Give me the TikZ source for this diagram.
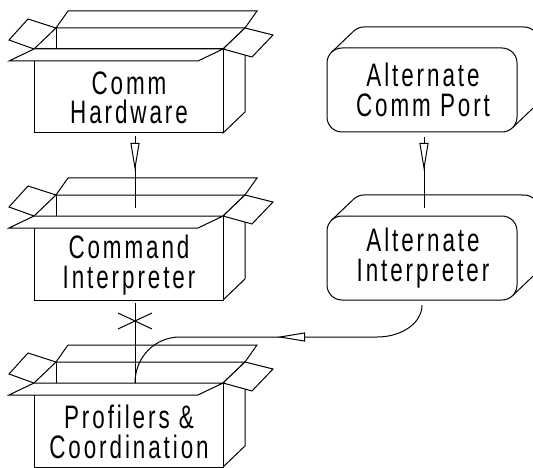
\documentclass[tikz,border=0pt]{standalone}
\usepackage{fontspec}
\newfontfamily\diagfont[FakeStretch=0.69,LetterSpace=9]{Liberation Sans}
\usetikzlibrary{arrows.meta,decorations.markings}

\tikzset{
  wire/.style={line width=1pt, line join=miter},
  facet/.style={draw=black, line width=1pt, fill=white, line join=miter},
  boxtext/.style={align=center, inner sep=0pt, font=\diagfont\fontsize{32.5}{29.5}\selectfont},
  hollowtip/.style={postaction={decorate, decoration={markings,
      mark=at position #1 with {\arrow{Triangle[length=28pt,width=9pt,fill=white,line width=1pt]}}}}},
  xmark/.style={postaction={decorate, decoration={markings,
      mark=at position #1 with {\draw[line width=1pt] (-8,-17) -- (8,17) (-8,17) -- (8,-17);}}}},
  % open cardboard box: origin at the front-left corner of the opening
  openbox/.pic={
    \draw[facet] (22,-21) -- (34,-38) -- (223,-38) -- (211,-21) -- cycle;
    \draw[facet] (22,-21) -- (-6,-30) -- (-25,-9) -- (0,0) -- cycle;
    \draw[wire] (22,-21) -- (22,0);
    \draw[facet] (189,0) -- (211,-21) -- (211,63) -- (189,84) -- cycle;
    \draw[facet] (0,0) rectangle (189,84);
    \draw[facet] (189,0) -- (211,-21) -- (239,-14) -- (218,8) -- cycle;
    \draw[facet] (0,0) -- (-25,12) -- (164,12) -- (189,0) -- cycle;
    \node[boxtext] (-label) at (95,49) {#1};
    \coordinate (-in) at (101,-8);
    \coordinate (-top) at (101,0);
    \coordinate (-out) at (101,87);
  },
  % rounded slab with a depth offset: origin at the top-left of the front face
  roundbox/.pic={
    \draw[wire] (4.39,4.39) -- (26.39,-16.61)
      arc[start angle=225,end angle=270,radius=15] -- (197,-21)
      arc[start angle=270,end angle=360,radius=15] -- (212,48)
      arc[start angle=0,end angle=45,radius=15] -- (185.61,79.61);
    \draw[facet, rounded corners=15pt] (0,0) rectangle (190,84);
    \node[boxtext] (-label) at (96,42) {#1};
    \coordinate (-in) at (97,-8);
    \coordinate (-out) at (97,89);
    \coordinate (-tail) at (95,89);
  },
}

\begin{document}
\begin{tikzpicture}[x=1pt,y=-1pt]
\useasboundingbox (0,0) rectangle (533,468);
\clip (0,0) rectangle (533,468);

\pic (hw) at (34,49) {openbox={Comm\\Hardware}};
\pic (ci) at (34,216) {openbox={Command\\Interpreter}};
\pic (pc) at (34,383) {openbox={Profilers \&\\Coordination}};
\pic (acp) at (327,48) {roundbox={Alternate\\Comm Port}};
\pic (ai) at (327,216) {roundbox={Alternate\\Interpreter}};

\draw[wire, hollowtip=35pt] (hw-out) -- (ci-in);
\draw[wire, hollowtip=34pt] (acp-out) -- (ai-in);
\draw[wire, xmark=18pt] (ci-out) -- (pc-top);
\draw[wire, hollowtip=161pt] (ai-tail) .. controls +(0,18) and +(25,0) .. ++(-45,32)
  -- ++(-197,0) .. controls +(-25,0) and +(0,-26) .. (pc-top);
\end{tikzpicture}
\end{document}
